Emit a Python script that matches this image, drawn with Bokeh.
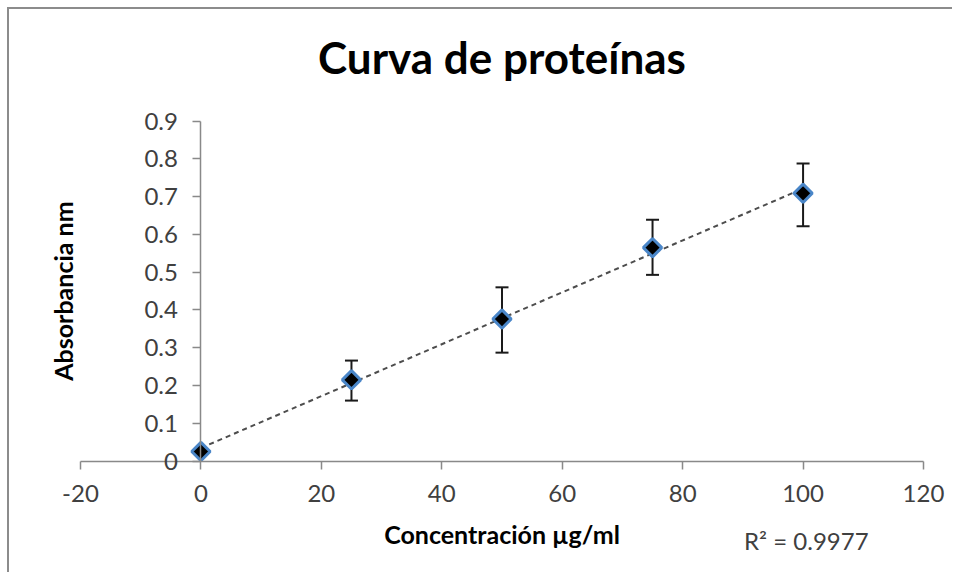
import numpy as np
from bokeh.plotting import figure
from bokeh.models import ColumnDataSource, Whisker, TeeHead, Label, FixedTicker
from bokeh.embed import file_html
from bokeh.resources import INLINE

# ---- data ----
concentration = [0, 25, 50, 75, 100]
absorbance = [0.025, 0.215, 0.376, 0.565, 0.709]
err_upper = [0.030, 0.266, 0.460, 0.639, 0.788]
err_lower = [0.020, 0.160, 0.287, 0.493, 0.622]
x_ticks = [-20, 0, 20, 40, 60, 80, 100, 120]
x_tick_labels = ["-20", "0", "20", "40", "60", "80", "100", "120"]
y_ticks = [0, 0.1, 0.2, 0.3, 0.4, 0.5, 0.6, 0.7, 0.8, 0.9]
y_tick_labels = ["0", "0.1", "0.2", "0.3", "0.4", "0.5", "0.6", "0.7", "0.8", "0.9"]
title_text = "Curva de proteínas"
x_label = "Concentración µg/ml"
y_label = "Absorbancia nm"
r2_text = "R² = 0.9977"

FONT = "Lato"
AXIS_COLOR = "#898989"
TEXT_COLOR = "#404040"

# ---- layout (pixels) ----
W, H = 945, 565            # canvas size
OFF = 9                    # canvas offset on page (margin + border)
AX_X0, AX_X1 = 80, 923     # page x of x = -20 and x = 120
AX_Y0, AX_Y1 = 460.5, 120.7  # page y of y = 0 and y = 0.9
xmin, xmax = x_ticks[0], x_ticks[-1]
ymin, ymax = y_ticks[0], y_ticks[-1]
sx = (AX_X1 - AX_X0) / (xmax - xmin)
sy = (AX_Y0 - AX_Y1) / (ymax - ymin)
x_range = (xmin - (AX_X0 - OFF) / sx, xmin + (OFF + W - AX_X0) / sx)
y_range = (ymin - (OFF + H - AX_Y0) / sy, ymax + (AX_Y1 - OFF) / sy)

p = figure(width=W, height=H, output_backend="svg", toolbar_location=None,
           x_range=x_range, y_range=y_range, min_border=0)
p.styles = {"margin-left": "7px", "margin-top": "7px",
            "border-left": "2px solid #8c8c8c", "border-top": "2px solid #8c8c8c"}
p.title.visible = False
p.outline_line_color = None
p.grid.visible = False
p.background_fill_color = "white"
p.border_fill_color = "white"

# x axis at y = 0
xa = p.xaxis[0]
xa.fixed_location = 0
xa.bounds = (xmin, xmax)
xa.ticker = FixedTicker(ticks=x_ticks)
xa.major_label_overrides = {t: s for t, s in zip(x_ticks, x_tick_labels)}
xa.axis_line_color = AXIS_COLOR
xa.axis_line_width = 1.5
xa.major_tick_line_color = AXIS_COLOR
xa.major_tick_line_width = 1.5
xa.major_tick_out = 8
xa.major_tick_in = 0
xa.minor_tick_line_color = None
xa.major_label_text_font = FONT
xa.major_label_text_font_size = "24px"
xa.major_label_text_color = TEXT_COLOR
xa.major_label_standoff = 16

# y axis crossing at x = 0
ya = p.yaxis[0]
ya.fixed_location = 0
ya.bounds = (ymin, ymax)
ya.ticker = FixedTicker(ticks=y_ticks)
ya.major_label_overrides = {t: s for t, s in zip(y_ticks, y_tick_labels)}
ya.axis_line_color = AXIS_COLOR
ya.axis_line_width = 1.5
ya.major_tick_line_color = AXIS_COLOR
ya.major_tick_line_width = 1.5
ya.major_tick_out = 8
ya.major_tick_in = 0
ya.minor_tick_line_color = None
ya.major_label_text_font = FONT
ya.major_label_text_font_size = "24px"
ya.major_label_text_color = TEXT_COLOR
ya.major_label_standoff = 15

# trend line (least squares)
slope, intercept = np.polyfit(concentration, absorbance, 1)
tx = [min(concentration), max(concentration)]
ty = [slope * v + intercept for v in tx]
p.line(tx, ty, line_color="#4d4d4d", line_width=2, line_dash="5 4")

src = ColumnDataSource(dict(x=concentration, y=absorbance, upper=err_upper, lower=err_lower))
w = Whisker(source=src, base="x", upper="upper", lower="lower", level="underlay",
            line_color="#1a1a1a", line_width=2,
            upper_head=TeeHead(size=13, line_color="#1a1a1a", line_width=2),
            lower_head=TeeHead(size=13, line_color="#1a1a1a", line_width=2))
p.add_layout(w)

p.scatter("x", "y", source=src, marker="square", angle=np.pi / 4, size=13,
          fill_color="black", line_color="#4A86C8", line_width=3)

xc = (xmin + xmax) / 2
# title
p.add_layout(Label(x=xc, y=ymax, y_offset=64, text=title_text, text_align="center",
                   text_baseline="alphabetic", text_font=FONT, text_font_size="44px",
                   text_font_style="bold", text_color="black"))
# x label
p.add_layout(Label(x=xc, y=ymin, y_offset=-72.5, text=x_label, text_align="center",
                   text_baseline="alphabetic", text_font=FONT, text_font_size="25px",
                   text_font_style="bold", text_color="black"))
# y label
p.add_layout(Label(x=xmin, y=(ymin + ymax) / 2, x_offset=-18, text=y_label, angle=np.pi / 2,
                   text_align="center", text_baseline="middle", text_font=FONT,
                   text_font_size="25px", text_font_style="bold", text_color="black"))
# R^2
p.add_layout(Label(x=90.2, y=ymin, y_offset=-79.5, text=r2_text, text_align="left",
                   text_baseline="alphabetic", text_font=FONT, text_font_size="24px",
                   text_color=TEXT_COLOR))

open("out.html", "w").write(file_html(p, INLINE))
